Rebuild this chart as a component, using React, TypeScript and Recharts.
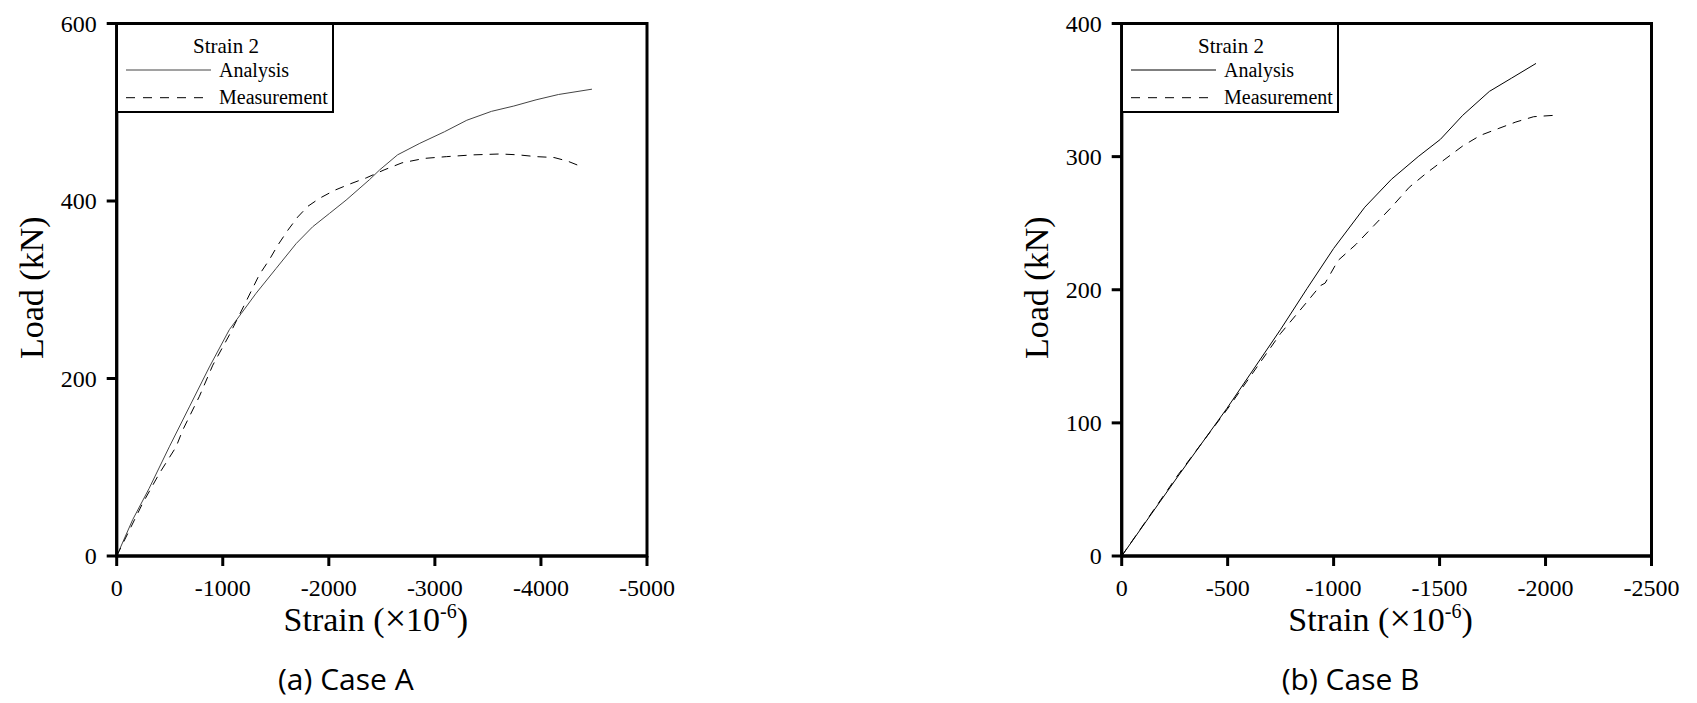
import { LineChart, Line, XAxis, YAxis, Legend, ReferenceArea } from 'recharts';

const SERIF = '"Liberation Serif", "Times New Roman", serif';
const SANS = '"Open Sans", "Noto Sans", sans-serif';

// Case A (strain in 1e-6, load in kN)
const caseAAnalysisStrain = [0, -151, -305, -496, -685, -874, -1062, -1173, -1314, -1503, -1692, -1848, -2006, -2163, -2383, -2479, -2648, -2858, -3090, -3301, -3533, -3744, -3954, -4165, -4481];
const caseAAnalysisLoad = [0, 41, 76, 123, 168, 213, 255, 273, 296, 324, 352, 371, 386, 401, 424, 435, 452, 465, 478, 491, 501, 507, 514, 520, 526];
const caseAMeasStrain = [0, -243, -402, -560, -623, -780, -906, -1062, -1204, -1283, -1345, -1440, -1518, -1613, -1707, -1802, -1912, -2053, -2195, -2352, -2521, -2690, -2900, -3111, -3364, -3617, -3786, -3954, -4123, -4250, -4376];
const caseAMeasLoad = [0, 59, 93, 123, 142, 180, 215, 249, 283, 302, 317, 334, 350, 367, 382, 394, 403, 412, 419, 426, 435, 443, 448, 450, 452, 453, 452, 450, 449, 445, 439];
const caseAXTicks = [0, -1000, -2000, -3000, -4000, -5000];
const caseAYTicks = [0, 200, 400, 600];

// Case B
const caseBAnalysisStrain = [0, -266, -497, -749, -875, -1000, -1147, -1273, -1399, -1504, -1609, -1735, -1840, -1955];
const caseBAnalysisLoad = [0, 60, 111, 170, 201, 231, 262, 283, 300, 313, 331, 349, 359, 370];
const caseBMeasStrain = [0, -266, -497, -749, -875, -937, -960, -1021, -1105, -1189, -1273, -1357, -1441, -1525, -1609, -1693, -1776, -1860, -1944, -2039];
const caseBMeasLoad = [0, 61, 110, 167, 191, 203, 205, 222, 234, 248, 262, 277, 288, 298, 308, 316, 321, 326, 330, 331];
const caseBXTicks = [0, -500, -1000, -1500, -2000, -2500];
const caseBYTicks = [0, 100, 200, 300, 400];

const legendTitle = 'Strain 2';

const zip = (xs: number[], ys: number[]) => xs.map((strain, i) => ({ strain, load: ys[i] }));

type Series = { name: string; stroke: string; dash?: string };

function LegendBox({ payload, series }: { payload?: any[]; series: Series[] }) {
  const items = (payload ?? []).map((entry) => {
    const s = series.find((x) => x.name === entry.value);
    return { name: entry.value as string, stroke: s?.stroke ?? entry.color, dash: s?.dash };
  });
  return (
    <div style={{ width: 218, height: 90, boxSizing: 'border-box', border: '2px solid #000', background: '#fff' }}>
      <svg width={214} height={86} style={{ display: 'block' }}>
        <text x={108} y={27.7} textAnchor="middle" fontSize={21} fontFamily={SERIF} fill="#000">
          {legendTitle}
        </text>
        {items.map((it, i) => (
          <g key={it.name}>
            <line x1={8} x2={it.dash ? 89 : 93} y1={45 + i * 27.7} y2={45 + i * 27.7} stroke={it.stroke} strokeWidth={1} strokeDasharray={it.dash ? '9 8' : undefined} />
            <text x={101} y={52 + i * 27} fontSize={20} fontFamily={SERIF} fill="#000">
              {it.name}
            </text>
          </g>
        ))}
      </svg>
    </div>
  );
}

function XTick({ x, y, payload }: any) {
  return (
    <text x={x} y={y} dy="0.71em" textAnchor="middle" fontSize={24} fontFamily={SERIF} fill="#000">
      {payload.value}
    </text>
  );
}

function YTick({ x, y, payload }: any) {
  return (
    <text x={x} y={y} dy="0.35em" textAnchor="end" fontSize={24} fontFamily={SERIF} fill="#000">
      {payload.value}
    </text>
  );
}

function XTitle({ viewBox, caption }: { viewBox?: any; caption: string }) {
  if (!viewBox) return null;
  const cx = viewBox.x + viewBox.width / 2;
  const base = viewBox.y;
  return (
    <g>
      <text x={cx - 6} y={base + 75} textAnchor="middle" fontSize={34} fontFamily={SERIF} fill="#000">
        <tspan>Strain (</tspan>
        <tspan fontSize={38}>×</tspan>
        <tspan>10</tspan>
        <tspan dy={-13} fontSize={20}>-6</tspan>
        <tspan dy={13}>)</tspan>
      </text>
      <text x={cx - 36} y={base + 134} textAnchor="middle" fontSize={30} fontFamily={SANS} fill="#000">
        {caption}
      </text>
    </g>
  );
}

function YTitle({ viewBox }: { viewBox?: any }) {
  if (!viewBox) return null;
  const bx = viewBox.x + viewBox.width - 73.4;
  const cy = viewBox.y + viewBox.height / 2 - 2;
  return (
    <text x={bx} y={cy} transform={`rotate(-90 ${bx} ${cy})`} textAnchor="middle" fontSize={34} fontFamily={SERIF} fill="#000">
      Load (kN)
    </text>
  );
}

function Panel({
  left, width, marginRight, xTicks, yTicks, analysis, measurement, analysisColor, caption,
}: {
  left: number;
  width: number;
  marginRight: number;
  xTicks: number[];
  yTicks: number[];
  analysis: { strain: number; load: number }[];
  measurement: { strain: number; load: number }[];
  analysisColor: string;
  caption: string;
}) {
  const xMin = xTicks[xTicks.length - 1];
  const yMax = yTicks[yTicks.length - 1];
  const series: Series[] = [
    { name: 'Analysis', stroke: analysisColor },
    { name: 'Measurement', stroke: '#000', dash: '9 7' },
  ];
  const lineStyle = { stroke: '#000', strokeWidth: 3 };

  return (
    <div style={{ position: 'absolute', left, top: 0 }}>
      <LineChart width={width} height={703} margin={{ top: 23.5, right: marginRight, left: 0, bottom: 107 }}>
        <XAxis
          type="number"
          dataKey="strain"
          domain={[xMin, 0]}
          reversed
          ticks={xTicks}
          interval={0}
          allowDataOverflow
          height={40}
          tickSize={10}
          tickMargin={13}
          tick={<XTick />}
          tickLine={lineStyle}
          axisLine={lineStyle}
          label={(p: any) => <XTitle viewBox={p.viewBox} caption={caption} />}
        />
        <YAxis
          type="number"
          dataKey="load"
          domain={[0, yMax]}
          ticks={yTicks}
          interval={0}
          allowDataOverflow
          width={116.7}
          tickSize={10}
          tickMargin={10}
          tick={<YTick />}
          tickLine={lineStyle}
          axisLine={lineStyle}
          label={(p: any) => <YTitle viewBox={p.viewBox} />}
        />
        <ReferenceArea x1={xMin} x2={0} y1={0} y2={yMax} fill="none" stroke="#000" strokeWidth={3} ifOverflow="visible" />
        <Line
          data={analysis}
          dataKey="load"
          name="Analysis"
          type="linear"
          stroke={analysisColor}
          strokeWidth={1}
          dot={false}
          activeDot={false}
          isAnimationActive={false}
        />
        <Line
          data={measurement}
          dataKey="load"
          name="Measurement"
          type="linear"
          stroke="#000"
          strokeWidth={1}
          strokeDasharray="9 7"
          dot={false}
          activeDot={false}
          isAnimationActive={false}
        />
        <Legend
          layout="vertical"
          align="center"
          verticalAlign="middle"
          wrapperStyle={{ top: 23, left: 116, width: 'auto', height: 'auto' }}
          content={(p: any) => <LegendBox payload={p.payload} series={series} />}
        />
      </LineChart>
    </div>
  );
}

export default function App() {
  return (
    <div style={{ position: 'absolute', left: 0, top: 0, width: 1697, height: 703, overflow: 'hidden', background: '#fff' }}>
      <Panel
        left={0}
        width={700}
        marginRight={53}
        xTicks={caseAXTicks}
        yTicks={caseAYTicks}
        analysis={zip(caseAAnalysisStrain, caseAAnalysisLoad)}
        measurement={zip(caseAMeasStrain, caseAMeasLoad)}
        analysisColor="#444"
        caption="(a) Case A"
      />
      <Panel
        left={1005}
        width={692}
        marginRight={45.5}
        xTicks={caseBXTicks}
        yTicks={caseBYTicks}
        analysis={zip(caseBAnalysisStrain, caseBAnalysisLoad)}
        measurement={zip(caseBMeasStrain, caseBMeasLoad)}
        analysisColor="#000"
        caption="(b) Case B"
      />
    </div>
  );
}
